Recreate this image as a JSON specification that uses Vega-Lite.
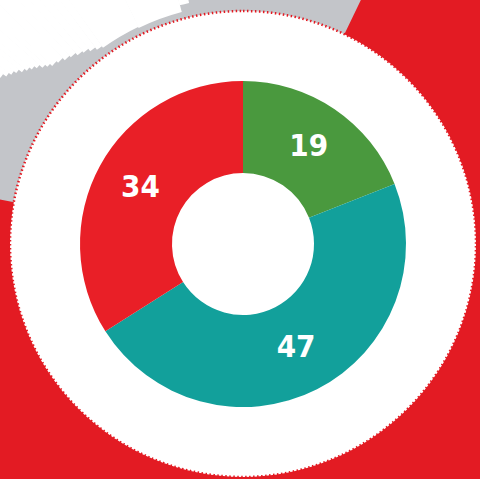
{
  "$schema": "https://vega.github.io/schema/vega-lite/v6.json",
  "autosize": {"type": "none"},
  "width": 474,
  "height": 470,
  "padding": {"left": 6, "top": 9, "right": 0, "bottom": 0},
  "background": "#e31b23",
  "view": {"stroke": null},
  "data": {"values": [
    {"segment": "A", "value": 19, "order": 1},
    {"segment": "B", "value": 47, "order": 2},
    {"segment": "C", "value": 34, "order": 3}
  ]},
  "layer": [
    {"data": {"values": [{"k": 1}]}, "mark": {"type": "arc", "theta": -1.39, "theta2": 0.45, "radius": 420, "radius2": 230, "fill": "#c3c5c9"}, "encoding": {}},
    {"data": {"values": [{"k": 1}]}, "mark": {"type": "arc", "theta": -0.970, "theta2": -0.953, "radius": 450, "radius2": 294, "fill": "#ffffff"}, "encoding": {}},
    {"data": {"values": [{"k": 1}]}, "mark": {"type": "arc", "theta": -0.955, "theta2": -0.938, "radius": 450, "radius2": 290, "fill": "#ffffff"}, "encoding": {}},
    {"data": {"values": [{"k": 1}]}, "mark": {"type": "arc", "theta": -0.940, "theta2": -0.923, "radius": 450, "radius2": 287, "fill": "#ffffff"}, "encoding": {}},
    {"data": {"values": [{"k": 1}]}, "mark": {"type": "arc", "theta": -0.925, "theta2": -0.908, "radius": 450, "radius2": 284, "fill": "#ffffff"}, "encoding": {}},
    {"data": {"values": [{"k": 1}]}, "mark": {"type": "arc", "theta": -0.910, "theta2": -0.893, "radius": 450, "radius2": 280, "fill": "#ffffff"}, "encoding": {}},
    {"data": {"values": [{"k": 1}]}, "mark": {"type": "arc", "theta": -0.895, "theta2": -0.878, "radius": 450, "radius2": 277, "fill": "#ffffff"}, "encoding": {}},
    {"data": {"values": [{"k": 1}]}, "mark": {"type": "arc", "theta": -0.880, "theta2": -0.863, "radius": 450, "radius2": 274, "fill": "#ffffff"}, "encoding": {}},
    {"data": {"values": [{"k": 1}]}, "mark": {"type": "arc", "theta": -0.865, "theta2": -0.848, "radius": 450, "radius2": 271, "fill": "#ffffff"}, "encoding": {}},
    {"data": {"values": [{"k": 1}]}, "mark": {"type": "arc", "theta": -0.850, "theta2": -0.833, "radius": 450, "radius2": 267, "fill": "#ffffff"}, "encoding": {}},
    {"data": {"values": [{"k": 1}]}, "mark": {"type": "arc", "theta": -0.835, "theta2": -0.818, "radius": 450, "radius2": 264, "fill": "#ffffff"}, "encoding": {}},
    {"data": {"values": [{"k": 1}]}, "mark": {"type": "arc", "theta": -0.820, "theta2": -0.793, "radius": 450, "radius2": 261, "fill": "#ffffff"}, "encoding": {}},
    {"data": {"values": [{"k": 1}]}, "mark": {"type": "arc", "theta": -0.795, "theta2": -0.768, "radius": 450, "radius2": 259, "fill": "#ffffff"}, "encoding": {}},
    {"data": {"values": [{"k": 1}]}, "mark": {"type": "arc", "theta": -0.770, "theta2": -0.743, "radius": 450, "radius2": 256, "fill": "#ffffff"}, "encoding": {}},
    {"data": {"values": [{"k": 1}]}, "mark": {"type": "arc", "theta": -0.745, "theta2": -0.718, "radius": 450, "radius2": 254, "fill": "#ffffff"}, "encoding": {}},
    {"data": {"values": [{"k": 1}]}, "mark": {"type": "arc", "theta": -0.720, "theta2": -0.693, "radius": 450, "radius2": 251, "fill": "#ffffff"}, "encoding": {}},
    {"data": {"values": [{"k": 1}]}, "mark": {"type": "arc", "theta": -0.695, "theta2": -0.668, "radius": 450, "radius2": 249, "fill": "#ffffff"}, "encoding": {}},
    {"data": {"values": [{"k": 1}]}, "mark": {"type": "arc", "theta": -0.670, "theta2": -0.643, "radius": 450, "radius2": 246, "fill": "#ffffff"}, "encoding": {}},
    {"data": {"values": [{"k": 1}]}, "mark": {"type": "arc", "theta": -0.645, "theta2": -0.618, "radius": 450, "radius2": 243, "fill": "#ffffff"}, "encoding": {}},
    {"data": {"values": [{"k": 1}]}, "mark": {"type": "arc", "theta": -0.620, "theta2": -0.448, "radius": 450, "radius2": 241, "fill": "#ffffff"}, "encoding": {}},
    {"data": {"values": [{"k": 1}]}, "mark": {"type": "arc", "theta": -0.450, "theta2": -0.258, "radius": 450, "radius2": 240, "fill": "#ffffff"}, "encoding": {}},
    {"data": {"values": [{"k": 1}]}, "mark": {"type": "arc", "theta": -0.260, "theta2": -0.22, "radius": 450, "radius2": 247, "fill": "#ffffff"}, "encoding": {}},
    {
      "data": {"values": [{"k": 1}]},
      "mark": {"type": "arc", "theta": 0, "theta2": 6.2832, "radius": 233, "radius2": 0, "fill": "#ffffff", "stroke": "#e31b23", "strokeWidth": 2.5, "strokeDash": [1.5, 2.5]},
      "encoding": {}
    },
    {
      "mark": {"type": "arc", "radius": 163, "radius2": 71, "stroke": null},
      "encoding": {
        "theta": {"field": "value", "type": "quantitative", "stack": true},
        "order": {"field": "order", "type": "quantitative"},
        "color": {
          "field": "segment", "type": "nominal",
          "scale": {"domain": ["A", "B", "C"], "range": ["#4a993e", "#12a09b", "#e91f27"]},
          "legend": null
        }
      }
    },
    {
      "mark": {"type": "text", "radius": 117, "fill": "#ffffff", "font": "DejaVu Sans Condensed", "fontWeight": "bold", "fontSize": 31, "baseline": "middle", "align": "center"},
      "encoding": {
        "theta": {"field": "value", "type": "quantitative", "stack": true},
        "order": {"field": "order", "type": "quantitative"},
        "text": {"field": "value", "type": "quantitative"}
      }
    }
  ]
}
